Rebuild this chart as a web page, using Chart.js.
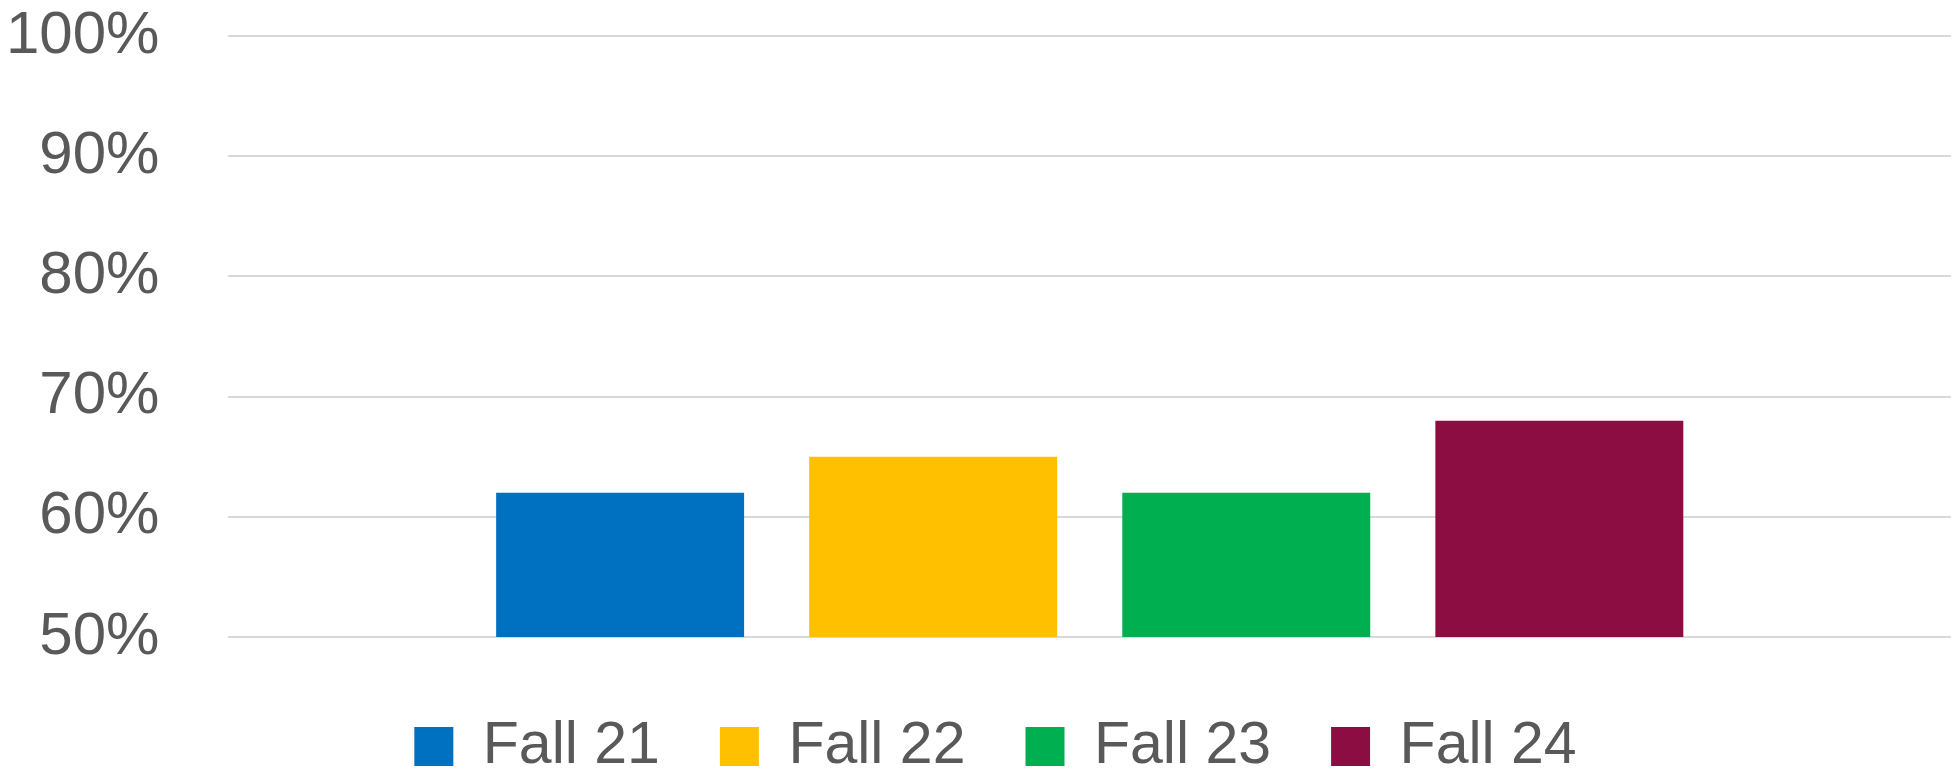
<!DOCTYPE html>
<html>
<head>
<meta charset="utf-8">
<script src="https://cdn.jsdelivr.net/npm/chart.js@4"></script>
<style>
  html, body { margin: 0; padding: 0; background: #ffffff; overflow: hidden; }
  #wrap { width: 1955px; height: 776px; position: relative; }
</style>
</head>
<body>
<div id="wrap"><canvas id="scoreChart"></canvas></div>
<script>
/******************************************************
 * DATA
 ******************************************************/
const categories = [""];
const seriesNames = ["Fall 21", "Fall 22", "Fall 23", "Fall 24"];
const seriesValues = [62, 65, 62, 68];
const yTicks = [50, 60, 70, 80, 90, 100];

const palette = ["#0070C0", "#FFC000", "#00B050", "#8B0D41"];
const textColor = "#595959";
const fontFamily = "'Liberation Sans', Arial, sans-serif";


/******************************************************
 * LEGEND NUDGE (legend sits a bit right of centre)
 ******************************************************/
const legendShift = {
  id: "legendShift",
  afterLayout(chart) {
    chart.legend.left += 17;
    chart.legend.right += 17;
  }
};


/******************************************************
 * CHART
 ******************************************************/
const datasets = seriesNames.map((name, i) => ({
  label: name,
  data: [seriesValues[i]],
  backgroundColor: palette[i],
  borderWidth: 0,
  categoryPercentage: 0.727,
  barPercentage: 0.792
}));

const ctx = document.getElementById("scoreChart").getContext("2d");
new Chart(ctx, {
  type: "bar",
  data: { labels: categories, datasets: datasets },
  plugins: [legendShift],
  options: {
    responsive: true,
    maintainAspectRatio: false,
    animation: false,
    layout: { padding: { left: 6, right: 4, top: 0, bottom: -10 } },
    plugins: {
      tooltip: { enabled: false },
      legend: {
        position: "bottom",
        labels: {
          color: textColor,
          font: { family: fontFamily, size: 59 },
          boxWidth: 39,
          boxHeight: 39,
          padding: 60
        }
      }
    },
    scales: {
      x: {
        grid: { display: false, drawTicks: false },
        border: { display: false },
        ticks: { display: false },
        title: { display: true, text: "", padding: 0, font: { size: 20, lineHeight: 1 } }
      },
      y: {
        min: yTicks[0],
        max: yTicks[yTicks.length - 1],
        afterBuildTicks: axis => { axis.ticks = yTicks.map(v => ({ value: v })); },
        grid: { color: "#D9D9D9", lineWidth: 2, drawTicks: true, tickLength: 69, tickColor: "rgba(0,0,0,0)" },
        border: { display: false },
        ticks: {
          padding: 0,
          color: textColor,
          font: { family: fontFamily, size: 60 },
          callback: v => v + "%"
        }
      }
    }
  }
});
</script>
</body>
</html>
